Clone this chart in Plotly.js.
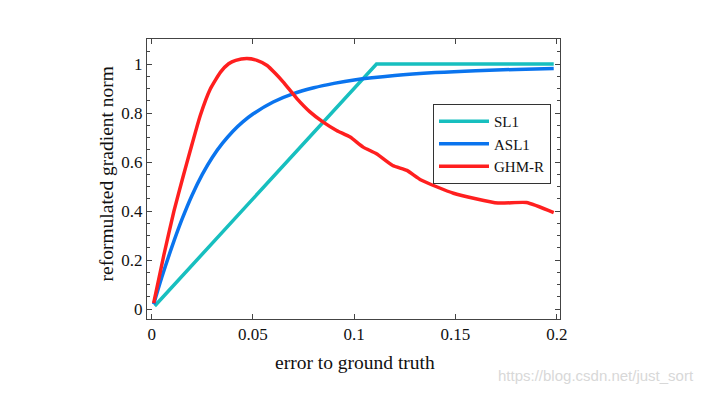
<!DOCTYPE html>
<html>
<head>
<meta charset="utf-8">
<script src="https://cdn.plot.ly/plotly-3.0.1.min.js"></script>
<style>html,body{margin:0;padding:0;background:#fff;}#chart{width:704px;height:394px;}</style>
</head>
<body>
<div id="chart"></div>
<script>
const sl1X = [0.0015, 0.111, 0.1985];
const sl1Y = [0.013, 1.0, 1.0];

const asl1X = [0.001, 0.005, 0.01, 0.015, 0.02, 0.025, 0.03, 0.035, 0.04, 0.045, 0.05, 0.06, 0.07, 0.08, 0.09, 0.1, 0.12, 0.14, 0.16, 0.18, 0.1985];
const asl1Y = [0.02, 0.13, 0.254, 0.367, 0.466, 0.55, 0.62, 0.677, 0.725, 0.764, 0.796, 0.845, 0.879, 0.903, 0.921, 0.935, 0.953, 0.965, 0.973, 0.978, 0.982];

const ghmX = [0.001, 0.006, 0.011, 0.0155, 0.019, 0.024, 0.029, 0.034, 0.038, 0.0415, 0.047, 0.052, 0.057, 0.061, 0.065, 0.0716, 0.078, 0.0847, 0.0913, 0.098, 0.1044, 0.111, 0.119, 0.126, 0.133, 0.149, 0.171, 0.185, 0.1985];
const ghmY = [0.025, 0.22, 0.40, 0.54, 0.645, 0.79, 0.899, 0.967, 1.001, 1.015, 1.022, 1.015, 0.994, 0.962, 0.926, 0.86, 0.806, 0.763, 0.729, 0.702, 0.661, 0.634, 0.586, 0.566, 0.527, 0.473, 0.433, 0.435, 0.394];

const names = ["SL1", "ASL1", "GHM-R"];
const colors = ["#17bfbf", "#0a74ee", "#ff1f1f"];
const xTitle = "error to ground truth";
const yTitle = "reformulated gradient norm";

const SERIF = "Liberation Serif";

const traces = [
  {x: sl1X, y: sl1Y, name: names[0], mode: "lines", line: {color: colors[0], width: 3.5}},
  {x: asl1X, y: asl1Y, name: names[1], mode: "lines", line: {color: colors[1], width: 3.5, shape: "spline", smoothing: 1}},
  {x: ghmX, y: ghmY, name: names[2], mode: "lines", line: {color: colors[2], width: 3.5, shape: "spline", smoothing: 0.5}}
];

const axisCommon = {
  showgrid: false, zeroline: false, showline: true, linecolor: "#444", linewidth: 1,
  ticks: "inside", ticklen: 5, tickcolor: "#444", mirror: "allticks",
  tickfont: {family: SERIF, size: 17, color: "#111"}
};

const layout = {
  width: 704, height: 394,
  margin: {l: 147, r: 144, t: 39, b: 75},
  paper_bgcolor: "#fff", plot_bgcolor: "#fff",
  font: {family: SERIF, color: "#111"},
  showlegend: true,
  legend: {
    x: 0.6925, y: 0.625, xanchor: "left", yanchor: "middle",
    bordercolor: "#333", borderwidth: 1, bgcolor: "#fff",
    font: {family: SERIF, size: 15, color: "#111"},
    itemwidth: 50, tracegroupgap: 0
  },
  xaxis: Object.assign({}, axisCommon, {
    range: [-0.0023, 0.2016], tickvals: [0, 0.05, 0.1, 0.15, 0.2], ticktext: ["0", "0.05", "0.1", "0.15", "0.2"]
  }),
  yaxis: Object.assign({}, axisCommon, {
    range: [-0.04, 1.102], tickvals: [0, 0.2, 0.4, 0.6, 0.8, 1], ticktext: ["0", "0.2", "0.4", "0.6", "0.8", "1"],
    minor: {dtick: 0.05, ticks: "inside", ticklen: 3, tickcolor: "#444"}
  }),
  annotations: [
    {text: xTitle, xref: "paper", yref: "paper", x: 0.5036, y: -0.1536, xanchor: "center", yanchor: "middle",
     showarrow: false, font: {family: SERIF, size: 19.5, color: "#111"}},
    {text: yTitle, xref: "paper", yref: "paper", x: -0.0969, y: 0.5196, xanchor: "center", yanchor: "middle",
     textangle: -90, showarrow: false, font: {family: SERIF, size: 19.5, color: "#111"}},
    {text: "https://blog.csdn.net/just_sort", xref: "paper", yref: "paper",
     x: 1.33, y: -0.2, xanchor: "right", yanchor: "middle", showarrow: false,
     font: {family: "Liberation Sans", size: 15, color: "#d8d8d8"}}
  ]
};

Plotly.newPlot("chart", traces, layout, {displayModeBar: false, staticPlot: true});
</script>
</body>
</html>
